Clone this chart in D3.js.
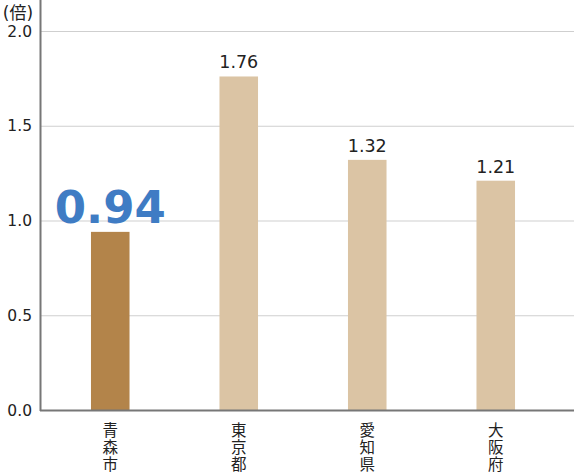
<!DOCTYPE html>
<html>
<head>
<meta charset="utf-8">
<script src="https://cdn.jsdelivr.net/npm/d3@7"></script>
<style>
  body { margin: 0; background: #fff; }
  svg { display: block; }
  text { font-family: "DejaVu Sans", "Noto Sans CJK JP", sans-serif; }
</style>
</head>
<body>
<svg width="574" height="474"></svg>
<script>
var cities = ["青森市", "東京都", "愛知県", "大阪府"]
var ratios = [0.94, 1.76, 1.32, 1.21]
var yTicks = [0, 0.5, 1.0, 1.5, 2.0]
var unitLabel = "(倍)"

var svg = d3.select("svg")
var plotL = 40, plotR = 574, plotT = 31, plotB = 410

var x = d3.scaleBand().domain(cities).range([46, 560]).paddingInner(0.7).paddingOuter(0.35)
var y = d3.scaleLinear().domain([0, 2]).range([plotB, plotT])

// gridlines
svg.append("g").selectAll("line")
    .data(yTicks.filter(function(d) { return d > 0 }))
    .join("line")
    .attr("x1", plotL).attr("x2", plotR)
    .attr("y1", function(d) { return y(d) + 0.5 })
    .attr("y2", function(d) { return y(d) + 0.5 })
    .attr("stroke", "#cfcfcf").attr("stroke-width", 1)

// tick labels
svg.append("g").selectAll("text")
    .data(yTicks)
    .join("text")
    .attr("x", 32).attr("y", function(d) { return y(d) })
    .attr("dy", "0.36em")
    .attr("text-anchor", "end")
    .attr("font-size", 15.5)
    .attr("fill", "#222")
    .text(function(d) { return d3.format(".1f")(d) })

svg.append("text")
    .attr("x", 18).attr("y", 19)
    .attr("text-anchor", "middle")
    .attr("font-size", 17)
    .attr("font-family", "Noto Sans CJK JP")
    .attr("fill", "#222")
    .text(unitLabel)

// bars
svg.append("g").selectAll("rect")
    .data(ratios)
    .join("rect")
    .attr("x", function(d, i) { return x(cities[i]) })
    .attr("width", x.bandwidth())
    .attr("y", function(d) { return y(d) })
    .attr("height", function(d) { return plotB - y(d) })
    .attr("fill", function(d, i) { return i == 0 ? "#b3844a" : "#dbc4a4" })

// value labels
svg.append("g").selectAll("text")
    .data(ratios)
    .join("text")
    .attr("x", function(d, i) { return x(cities[i]) + x.bandwidth()/2 })
    .attr("y", function(d, i) { return y(d) - (i == 0 ? 9 : 8) })
    .attr("text-anchor", "middle")
    .attr("font-size", function(d, i) { return i == 0 ? 45 : 17.5 })
    .attr("font-weight", function(d, i) { return i == 0 ? "bold" : "normal" })
    .attr("fill", function(d, i) { return i == 0 ? "#3f7cc4" : "#222" })
    .text(function(d) { return d3.format(".2f")(d) })

// axes lines
svg.append("line")
    .attr("x1", plotL + 0.5).attr("x2", plotL + 0.5)
    .attr("y1", 0).attr("y2", plotB + 1)
    .attr("stroke", "#777").attr("stroke-width", 2)
svg.append("line")
    .attr("x1", plotL).attr("x2", plotR)
    .attr("y1", plotB + 0.5).attr("y2", plotB + 0.5)
    .attr("stroke", "#777").attr("stroke-width", 2)

// vertical category labels, one char per line
var lbl = svg.append("g").selectAll("text")
    .data(cities)
    .join("text")
    .attr("text-anchor", "middle")
    .attr("font-size", 15.5)
    .attr("font-family", "Noto Sans CJK JP")
    .attr("fill", "#222")
lbl.selectAll("tspan")
    .data(function(d) {
        var cx = x(d) + x.bandwidth()/2
        return d.split("").map(function(c, j) { return { c: c, x: cx, j: j } })
    })
    .join("tspan")
    .attr("x", function(d) { return d.x })
    .attr("y", function(d) { return 436 + d.j * 17 })
    .text(function(d) { return d.c })
</script>
</body>
</html>
